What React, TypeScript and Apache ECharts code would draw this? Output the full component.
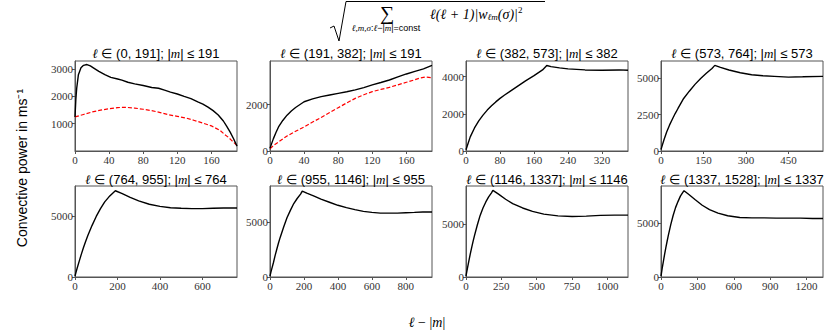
import React, { useEffect, useRef } from "react";
import * as echarts from "echarts";

// ---- data ----
const p1L = [0,1,2,4,7,10,14,18,22,28,35,42,50,55,62,70,80,90,98,105,112,120,128,136,144,150,156,162,168,174,178,182,186,190];
const p1Black = [1250,1900,2300,2800,3050,3140,3170,3120,3040,2920,2800,2700,2640,2600,2520,2460,2400,2330,2300,2230,2160,2090,2000,1920,1800,1720,1610,1480,1320,1100,900,690,450,180];
const p1RedL = [0,10,20,30,40,50,55,60,70,80,90,100,110,120,130,140,150,160,165,170,175,180,183,186,190];
const p1Red = [1250,1340,1430,1500,1550,1590,1600,1600,1575,1530,1480,1410,1330,1270,1210,1120,1025,920,840,760,620,500,410,320,200];

const p2L = [0,2,4,7,10,15,20,25,30,40,50,60,70,80,90,100,110,120,130,140,150,160,170,180,190];
const p2Black = [120,330,535,800,1040,1320,1550,1730,1880,2130,2250,2350,2420,2490,2560,2640,2740,2855,2960,3070,3200,3330,3440,3550,3700];
const p2RedL = [0,5,10,20,30,40,50,60,70,80,90,100,110,120,130,140,150,160,170,175,182,190];
const p2Red = [100,260,390,650,850,1040,1250,1450,1660,1870,2080,2275,2430,2565,2660,2750,2860,2970,3080,3145,3200,3170];

const p3L = [0,5,10,20,30,40,50,60,70,80,90,100,120,140,160,180,190,200,220,240,280,320,360,381];
const p3Black = [70,420,760,1240,1620,1930,2200,2430,2640,2830,3000,3150,3460,3770,4050,4360,4600,4540,4470,4415,4360,4340,4360,4340];

const p4L = [0,5,10,20,30,40,50,60,80,100,120,140,160,180,190,210,240,280,320,360,400,450,500,572];
const p4Black = [100,420,740,1310,1780,2190,2580,2930,3620,4120,4590,5000,5350,5690,5900,5760,5580,5390,5250,5180,5140,5090,5110,5140];

const p5L = [0,5,10,20,30,40,50,60,80,100,120,140,160,180,190,220,260,300,350,400,450,500,550,600,650,700,763];
const p5Black = [80,400,720,1300,1880,2420,2920,3390,4220,4970,5610,6170,6580,6920,7080,6860,6530,6250,5970,5800,5690,5640,5610,5610,5640,5670,5670];

const p6L = [0,5,10,20,30,40,50,60,80,100,120,140,160,180,190,220,260,300,350,400,450,500,550,600,650,700,750,800,850,900,954];
const p6Black = [80,420,720,1300,1950,2530,3100,3610,4540,5400,6080,6700,7160,7560,7840,7620,7380,7100,6820,6540,6330,6140,5990,5890,5830,5830,5830,5860,5890,5930,5930];

const p7L = [0,5,10,20,30,40,50,60,80,100,120,140,160,180,190,230,280,330,400,470,550,650,750,850,950,1050,1145];
const p7Black = [80,450,820,1500,2160,2770,3350,3890,4900,5800,6500,7070,7550,7930,8150,7800,7320,6910,6500,6180,5920,5760,5700,5730,5800,5830,5830];

const p8L = [0,5,10,20,30,40,50,60,80,100,120,140,160,180,190,230,280,340,400,470,550,650,750,850,950,1050,1150,1250,1336];
const p8Black = [80,450,820,1480,2130,2740,3300,3840,4840,5720,6450,7010,7520,7860,8020,7670,7200,6670,6260,5940,5690,5530,5500,5500,5470,5470,5470,5440,5440];

const lRanges = [[0,191],[191,382],[382,573],[573,764],[764,955],[955,1146],[1146,1337],[1337,1528]];
const mLimits = [191,191,382,573,764,955,1146,1337];
const xMaxes = [190,190,381,572,763,954,1145,1336];
const yMaxes = [3300,3890,4840,6200,7470,8300,8570,8460];
const xTicks = [
  [0,40,80,120,160],[0,40,80,120,160],[0,80,160,240,320],[0,150,300,450],
  [0,200,400,600],[0,200,400,600,800],[0,250,500,750,1000],[0,300,600,900,1200],
];
const yTicks = [
  [1000,2000,3000],[0,2000],[0,2000,4000],[0,2500,5000],
  [0,5000],[0,5000],[0,5000],[0,5000],
];
const blackSeries = [[p1L,p1Black],[p2L,p2Black],[p3L,p3Black],[p4L,p4Black],[p5L,p5Black],[p6L,p6Black],[p7L,p7Black],[p8L,p8Black]];
const redSeries: { [k: number]: [number[], number[]] } = { 0: [p1RedL, p1Red], 1: [p2RedL, p2Red] };

const SANS = "Liberation Sans";
const SERIF = "Liberation Serif";
const FRAME = "#555";

const zip = (a: number[], b: number[]) => a.map((v, i) => [v, b[i]]);

export default function App() {
  const ref = useRef<HTMLDivElement>(null);
  useEffect(() => {
    if (!ref.current) return;
    const chart = echarts.init(ref.current, null, { renderer: "svg" });
    const lefts = [75, 270, 466, 661];
    const tops = [61, 186];
    const heights = [90, 91];
    const grids: any[] = [];
    const xAxes: any[] = [];
    const yAxes: any[] = [];
    const series: any[] = [];
    const graphics: any[] = [];
    const rich = {
      i: { fontFamily: SERIF, fontStyle: "italic", fontSize: 13, color: "#000" },
    };
    for (let k = 0; k < 8; k++) {
      const col = k % 4;
      const row = Math.floor(k / 4);
      grids.push({
        left: lefts[col], top: tops[row], width: 162, height: heights[row],
        show: true, borderColor: FRAME, borderWidth: 1, backgroundColor: "transparent",
      });
      xAxes.push({
        type: "value", gridIndex: k, min: 0, max: xMaxes[k],
        axisLine: { show: true, onZero: false, lineStyle: { color: FRAME, width: 1 } },
        axisTick: { show: true, length: 3, customValues: xTicks[k], lineStyle: { color: FRAME } },
        axisLabel: { customValues: xTicks[k], fontFamily: SERIF, fontSize: 11, color: "#333", margin: 3, formatter: (v: number) => String(v) },
        splitLine: { show: false },
      });
      yAxes.push({
        type: "value", gridIndex: k, min: 0, max: yMaxes[k],
        axisLine: { show: true, onZero: false, lineStyle: { color: FRAME, width: 1 } },
        axisTick: { show: true, length: 3, customValues: yTicks[k], lineStyle: { color: FRAME } },
        axisLabel: { customValues: yTicks[k], fontFamily: SERIF, fontSize: 11, color: "#333", margin: 2, formatter: (v: number) => String(v) },
        splitLine: { show: false },
      });
      const [bx, by] = blackSeries[k];
      series.push({
        type: "line", xAxisIndex: k, yAxisIndex: k, data: zip(bx, by),
        showSymbol: false, symbol: "none", lineStyle: { color: "#000", width: 1.4 }, z: 3,
      });
      if (redSeries[k]) {
        const [rx, ry] = redSeries[k];
        series.push({
          type: "line", xAxisIndex: k, yAxisIndex: k, data: zip(rx, ry),
          showSymbol: false, symbol: "none", lineStyle: { color: "#ff0000", width: 1.2, type: [4, 2] }, z: 2,
        });
      }
      const [a, b] = lRanges[k];
      graphics.push({
        type: "text",
        x: lefts[col] + 81,
        y: row === 0 ? 53 : 179,
        style: {
          text: `{i|ℓ} ∈ (${a}, ${b}]; |{i|m}| ≤ ${mLimits[k]}`,
          fontFamily: SANS,
          fontSize: 13,
          fill: "#000",
          align: "center",
          verticalAlign: "middle",
          rich,
        },
      });
    }
    // y-axis label
    graphics.push({
      type: "text", x: 22, y: 168, rotation: Math.PI / 2,
      style: { text: "Convective power in ms⁻¹", fontFamily: SANS, fontSize: 14, fill: "#000", align: "center", verticalAlign: "middle" },
    });
    // x-axis label
    graphics.push({
      type: "text", x: 427, y: 322,
      style: {
        text: "{i|ℓ} − |{i|m}|", fontFamily: SERIF, fontSize: 14, fill: "#000", align: "center", verticalAlign: "middle",
        rich: { i: { fontFamily: SERIF, fontStyle: "italic", fontSize: 14, color: "#000" } },
      },
    });
    // top formula
    graphics.push({
      type: "polyline",
      shape: { points: [[330, 28], [334, 26], [339, 41], [346, 1.5], [545, 1.5]] },
      style: { stroke: "#000", lineWidth: 1, fill: "none" },
    });
    graphics.push({
      type: "text", x: 387, y: 13,
      style: { text: "∑", fontFamily: SERIF, fontSize: 20, fill: "#000", align: "center", verticalAlign: "middle" },
    });
    graphics.push({
      type: "text", x: 386, y: 28,
      style: {
        text: "{i|ℓ,m,σ}:{i|ℓ}−|{i|m}|=const",
        fontFamily: SANS, fontSize: 9, fill: "#000", align: "center", verticalAlign: "middle",
        rich: { i: { fontFamily: SERIF, fontStyle: "italic", fontSize: 9, color: "#000" } },
      },
    });
    graphics.push({
      type: "text", x: 430, y: 14,
      style: {
        text: "{i|ℓ}(ℓ + 1)|{i|w}{s|ℓm}(σ)|{p|2}",
        fontFamily: SERIF, fontStyle: "italic", fontSize: 14, fill: "#000", align: "left", verticalAlign: "middle",
        rich: {
          i: { fontFamily: SERIF, fontStyle: "italic", fontSize: 14, color: "#000" },
          s: { fontFamily: SERIF, fontStyle: "italic", fontSize: 9, color: "#000", padding: [6, 0, 0, 0] },
          p: { fontFamily: SERIF, fontSize: 9, color: "#000", padding: [0, 0, 8, 0] },
        },
      },
    });
    chart.setOption({
      animation: false,
      backgroundColor: "#fff",
      grid: grids,
      xAxis: xAxes,
      yAxis: yAxes,
      series,
      graphic: graphics,
    });
    return () => chart.dispose();
  }, []);
  return <div ref={ref} style={{ position: "fixed", left: 0, top: 0, width: 830, height: 332 }} />;
}
